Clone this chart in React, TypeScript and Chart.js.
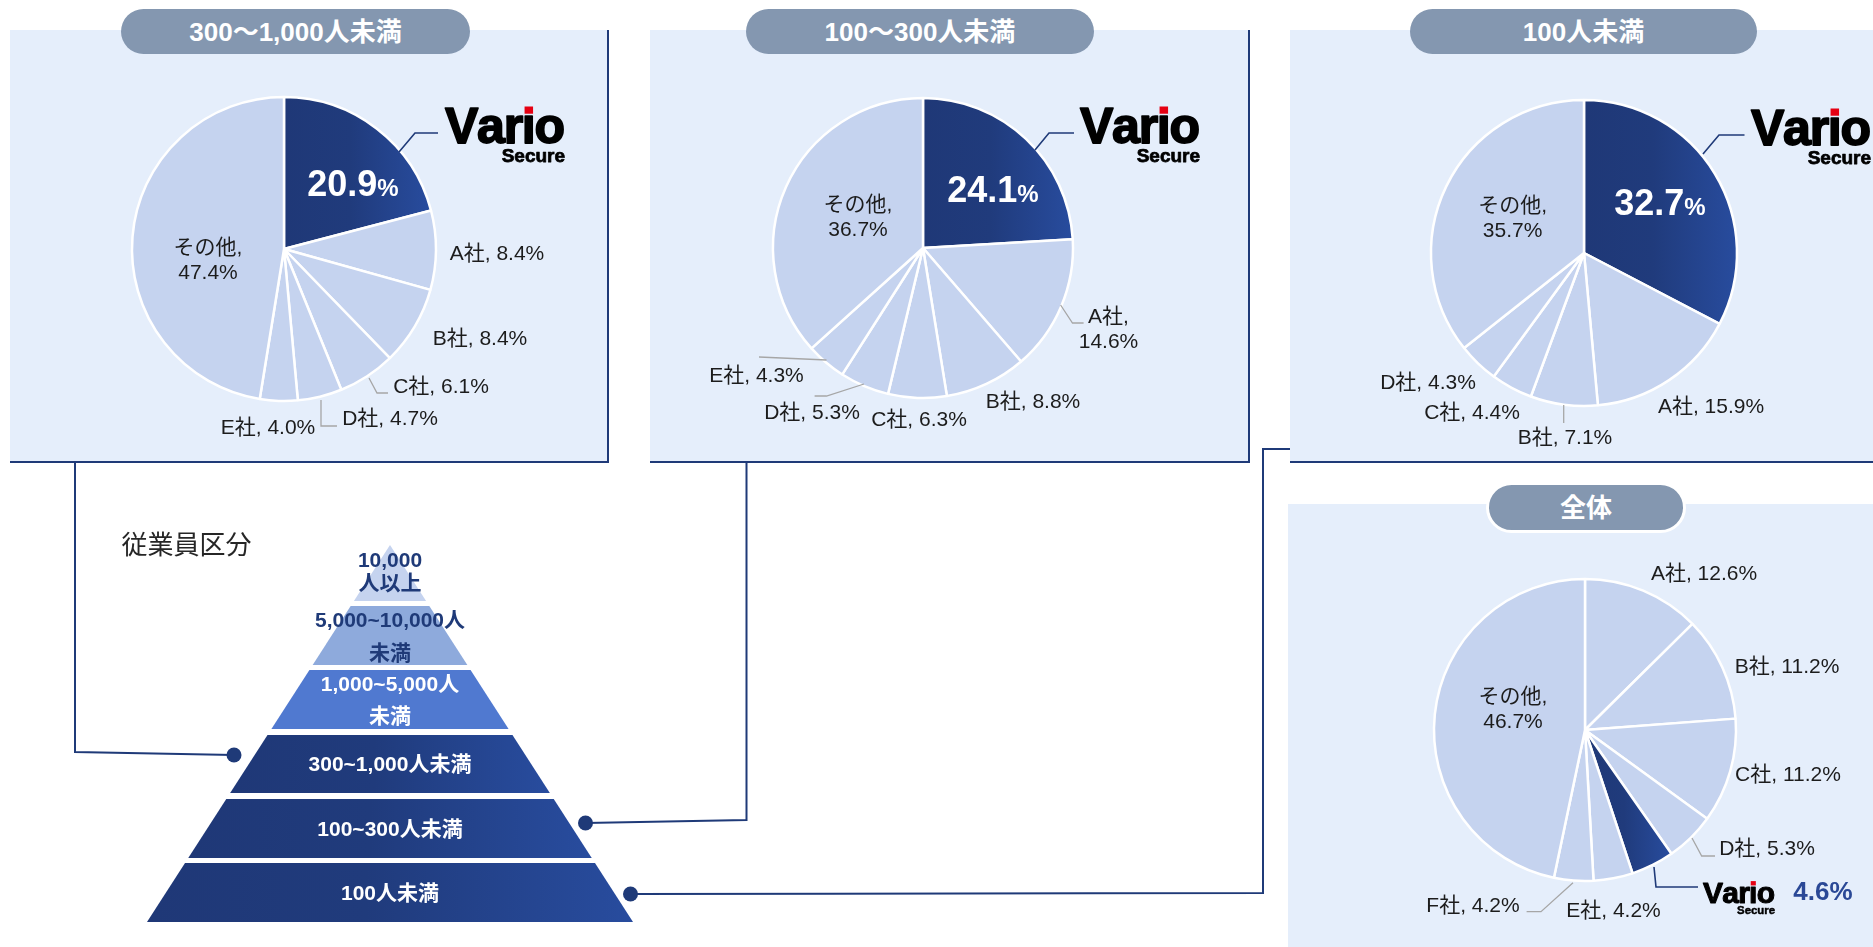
import React, { useEffect, useRef } from 'react';
import { Chart, registerables } from 'chart.js';
Chart.register(...registerables);

// ---------------- data ----------------
const VARIO = 'Vario Secure';
const GROUP_TITLES = ['300～1,000人未満', '100～300人未満', '100人未満', '全体'];

const CATS_300_1000 = [VARIO, 'A社', 'B社', 'C社', 'D社', 'E社', 'その他'];
const VALS_300_1000 = [20.9, 8.4, 8.4, 6.1, 4.7, 4.0, 47.4];

const CATS_100_300 = [VARIO, 'A社', 'B社', 'C社', 'D社', 'E社', 'その他'];
const VALS_100_300 = [24.1, 14.6, 8.8, 6.3, 5.3, 4.3, 36.7];

const CATS_UNDER_100 = [VARIO, 'A社', 'B社', 'C社', 'D社', 'その他'];
const VALS_UNDER_100 = [32.7, 15.9, 7.1, 4.4, 4.3, 35.7];

const CATS_TOTAL = ['A社', 'B社', 'C社', 'D社', VARIO, 'E社', 'F社', 'その他'];
const VALS_TOTAL = [12.6, 11.2, 11.2, 5.3, 4.6, 4.2, 4.2, 46.7];

const PYRAMID_TITLE = '従業員区分';
const PYRAMID_TIERS = [
  ['10,000', '人以上'],
  ['5,000~10,000人', '未満'],
  ['1,000~5,000人', '未満'],
  ['300~1,000人未満'],
  ['100~300人未満'],
  ['100人未満'],
];

// ---------------- styles ----------------
const FONT = "'Liberation Sans', 'Noto Sans CJK JP', sans-serif";
const LIGHT = '#c5d3ef';
const NAVY1 = '#1f3877';
const NAVY2 = '#284c9e';
const PANEL_BG = '#e5eefb';
const PILL_BG = '#8497b0';
const LINE_NAVY = '#1f3a78';
const BW = 2.5;

type LabelSpec = {
  dx: number; dy: number; wrap?: boolean;
  leader?: number[][]; leaderColor?: string;
  varioIn?: boolean; logo?: { dx: number; dy: number; size: number };
  valueOut?: boolean;
};

const PIES = [
  {
    cats: CATS_300_1000, vals: VALS_300_1000, title: GROUP_TITLES[0],
    panel: { x: 10, y: 30, w: 599, h: 433 }, borderRight: true, borderBottom: true,
    pill: { x: 121, y: 9, w: 349, h: 45 },
    cx: 284, cy: 249, r: 152,
    labels: [
      { dx: 69, dy: -66, varioIn: true, logo: { dx: 161, dy: -106, size: 50 }, leader: [[115, -97], [131, -116], [154, -116]], leaderColor: LINE_NAVY },
      { dx: 213, dy: 5 },
      { dx: 196, dy: 90 },
      { dx: 157, dy: 138, leader: [[85, 129], [93, 144], [104, 144]] },
      { dx: 106, dy: 170, leader: [[37, 151], [37, 177], [53, 177]] },
      { dx: -16, dy: 179 },
      { dx: -76, dy: 11.5, wrap: true },
    ] as LabelSpec[],
  },
  {
    cats: CATS_100_300, vals: VALS_100_300, title: GROUP_TITLES[1],
    panel: { x: 650, y: 30, w: 600, h: 433 }, borderRight: true, borderBottom: true,
    pill: { x: 746, y: 9, w: 348, h: 45 },
    cx: 923, cy: 248, r: 150,
    labels: [
      { dx: 70, dy: -59, varioIn: true, logo: { dx: 157, dy: -105, size: 50 }, leader: [[112, -98], [126, -115], [151, -115]], leaderColor: LINE_NAVY },
      { dx: 185.5, dy: 81.5, wrap: true, leader: [[137.6, 57], [149.5, 75], [160.6, 75]] },
      { dx: 110, dy: 154 },
      { dx: -4, dy: 172 },
      { dx: -111, dy: 165, leader: [[-59, 136], [-96.5, 148], [-108.4, 148]] },
      { dx: -166.5, dy: 128, leader: [[-96.5, 112], [-164, 109]] },
      { dx: -65, dy: -30.5, wrap: true },
    ] as LabelSpec[],
  },
  {
    cats: CATS_UNDER_100, vals: VALS_UNDER_100, title: GROUP_TITLES[2],
    panel: { x: 1290, y: 30, w: 583, h: 433 }, borderRight: false, borderBottom: true,
    pill: { x: 1410, y: 9, w: 347, h: 45 },
    cx: 1584, cy: 253, r: 153,
    labels: [
      { dx: 76, dy: -51, varioIn: true, logo: { dx: 167, dy: -108, size: 50 }, leader: [[119, -99], [135, -118], [160.5, -118]], leaderColor: LINE_NAVY },
      { dx: 127, dy: 154 },
      { dx: -19, dy: 185, leader: [[-20.3, 152], [-20.3, 170]] },
      { dx: -112, dy: 160 },
      { dx: -156, dy: 130 },
      { dx: -71.4, dy: -34, wrap: true },
    ] as LabelSpec[],
  },
  {
    cats: CATS_TOTAL, vals: VALS_TOTAL, title: GROUP_TITLES[3],
    panel: { x: 1288, y: 504, w: 585, h: 443 }, borderRight: false, borderBottom: false,
    pill: { x: 1486, y: 482, w: 200, h: 51 }, pillBorder: true,
    cx: 1585, cy: 730, r: 151,
    labels: [
      { dx: 119, dy: -156 },
      { dx: 202, dy: -63 },
      { dx: 203, dy: 45 },
      { dx: 182, dy: 119, leader: [[107, 108], [116.7, 126], [130, 126]] },
      { dx: 238, dy: 163, valueOut: true, logo: { dx: 118, dy: 173, size: 30 }, leader: [[69, 137], [71, 157], [113, 157]], leaderColor: LINE_NAVY },
      { dx: 28.5, dy: 181.7 },
      { dx: -112, dy: 176.7, leader: [[-12, 152.7], [-44, 181.7], [-58.4, 181.7]] },
      { dx: -72, dy: -20, wrap: true },
    ] as LabelSpec[],
  },
];

// ---------------- drawing helpers ----------------
function drawLogo(ctx: CanvasRenderingContext2D, x: number, baseline: number, size: number) {
  ctx.save();
  ctx.fillStyle = '#000';
  ctx.strokeStyle = '#000';
  ctx.lineJoin = 'round';
  ctx.lineWidth = size * 0.035;
  ctx.font = `bold ${size}px 'Liberation Sans'`;
  ctx.textAlign = 'left';
  ctx.textBaseline = 'alphabetic';
  const ls = -size * 0.025;
  const parts = ['V', 'a', 'r', 'ı', 'o'];
  let cur = x;
  let iX = 0, iW = 0;
  for (const p of parts) {
    const w = ctx.measureText(p).width;
    ctx.fillText(p, cur, baseline);
    ctx.strokeText(p, cur, baseline);
    if (p === 'ı') { iX = cur; iW = w; }
    cur += w + ls;
  }
  const right = cur - ls;
  const s = size * 0.17;
  ctx.fillStyle = '#e60012';
  ctx.fillRect(iX + iW / 2 - s / 2, baseline - size * 0.73, s, s * 0.85);
  ctx.fillStyle = '#000';
  ctx.lineWidth = size * 0.015;
  ctx.font = `bold ${size * 0.38}px 'Liberation Sans'`;
  ctx.textAlign = 'right';
  ctx.fillText('Secure', right, baseline + size * 0.37);
  ctx.strokeText('Secure', right, baseline + size * 0.37);
  ctx.restore();
}

function sliceGradient(chart: any, index: number, vals: number[]) {
  const area = chart.chartArea;
  if (!area) return NAVY1;
  const cx = (area.left + area.right) / 2;
  const r = (Math.min(area.right - area.left, area.bottom - area.top) - BW) / 2;
  const total = vals.reduce((a, b) => a + b, 0);
  let before = 0;
  for (let i = 0; i < index; i++) before += vals[i];
  const a0 = (before / total) * Math.PI * 2;
  const a1 = ((before + vals[index]) / total) * Math.PI * 2;
  let minX = cx, maxX = cx;
  for (let t = 0; t <= 40; t++) {
    const a = a0 + ((a1 - a0) * t) / 40;
    const x = cx + r * Math.sin(a);
    minX = Math.min(minX, x);
    maxX = Math.max(maxX, x);
  }
  const g = chart.ctx.createLinearGradient(minX, 0, maxX, 0);
  g.addColorStop(0, NAVY1);
  g.addColorStop(0.45, '#203b7c');
  g.addColorStop(1, NAVY2);
  return g;
}

function PieBlock({ spec }: { spec: typeof PIES[number] }) {
  const ref = useRef<HTMLCanvasElement>(null);
  const { panel } = spec;
  useEffect(() => {
    const canvas = ref.current!;
    const half = spec.r + BW / 2;
    const padding = {
      left: spec.cx - panel.x - half,
      top: spec.cy - panel.y - half,
      right: panel.x + panel.w - spec.cx - half,
      bottom: panel.y + panel.h - spec.cy - half,
    };
    const varioIdx = spec.cats.indexOf(VARIO);
    const labelPlugin = {
      id: 'pieLabels',
      afterDraw(chart: any) {
        const ctx: CanvasRenderingContext2D = chart.ctx;
        const arc = chart.getDatasetMeta(0).data[0];
        const cx = arc.x, cy = arc.y;
        ctx.save();
        spec.labels.forEach((L, i) => {
          const cat = spec.cats[i];
          const val = spec.vals[i];
          if (L.leader) {
            ctx.beginPath();
            ctx.strokeStyle = L.leaderColor || '#a6a6a6';
            ctx.lineWidth = L.leaderColor ? 1.6 : 1.3;
            L.leader.forEach((p, k) => {
              if (k === 0) ctx.moveTo(cx + p[0], cy + p[1]);
              else ctx.lineTo(cx + p[0], cy + p[1]);
            });
            ctx.stroke();
          }
          const x = cx + L.dx, y = cy + L.dy;
          if (cat === VARIO) {
            if (L.logo) drawLogo(ctx, cx + L.logo.dx, cy + L.logo.dy, L.logo.size);
            if (L.varioIn) {
              const num = val.toFixed(1);
              ctx.fillStyle = '#ffffff';
              ctx.textBaseline = 'alphabetic';
              ctx.textAlign = 'left';
              ctx.font = `bold 36px 'Liberation Sans'`;
              const w1 = ctx.measureText(num).width;
              ctx.font = `bold 24px 'Liberation Sans'`;
              const w2 = ctx.measureText('%').width;
              const start = x - (w1 + w2) / 2;
              const base = y + 13;
              ctx.font = `bold 36px 'Liberation Sans'`;
              ctx.fillText(num, start, base);
              ctx.font = `bold 24px 'Liberation Sans'`;
              ctx.fillText('%', start + w1, base);
            }
            if (L.valueOut) {
              ctx.fillStyle = '#2a4896';
              ctx.font = `bold 26px 'Liberation Sans'`;
              ctx.textAlign = 'center';
              ctx.textBaseline = 'middle';
              ctx.fillText(`${val.toFixed(1)}%`, x, y);
            }
            return;
          }
          ctx.fillStyle = '#1c1c1c';
          ctx.font = `21px ${FONT}`;
          ctx.textAlign = 'center';
          ctx.textBaseline = 'middle';
          if (L.wrap) {
            ctx.fillText(`${cat},`, x, y - 12.5);
            ctx.fillText(`${val.toFixed(1)}%`, x, y + 12.5);
          } else {
            ctx.fillText(`${cat}, ${val.toFixed(1)}%`, x, y);
          }
        });
        ctx.restore();
      },
    };
    const chart = new Chart(canvas, {
      type: 'pie',
      data: {
        labels: spec.cats,
        datasets: [
          {
            data: spec.vals,
            backgroundColor: (c: any) =>
              c.dataIndex === varioIdx ? sliceGradient(c.chart, varioIdx, spec.vals) : LIGHT,
            borderColor: '#ffffff',
            borderWidth: BW,
            hoverOffset: 0,
          },
        ],
      },
      options: {
        responsive: false,
        animation: false,
        events: [],
        layout: { padding },
        plugins: { legend: { display: false }, tooltip: { enabled: false } },
      },
      plugins: [labelPlugin],
    } as any);
    return () => chart.destroy();
  }, []);

  return (
    <>
      <div
        style={{
          position: 'absolute', left: panel.x, top: panel.y, width: panel.w, height: panel.h,
          background: PANEL_BG, boxSizing: 'border-box',
          borderRight: spec.borderRight ? `2px solid ${LINE_NAVY}` : 'none',
          borderBottom: spec.borderBottom ? `2px solid ${LINE_NAVY}` : 'none',
        }}
      />
      <canvas
        ref={ref}
        width={panel.w}
        height={panel.h}
        style={{ position: 'absolute', left: panel.x, top: panel.y, width: panel.w, height: panel.h }}
      />
      <div
        style={{
          position: 'absolute', left: spec.pill.x, top: spec.pill.y, width: spec.pill.w, height: spec.pill.h,
          boxSizing: 'border-box', borderRadius: spec.pill.h / 2, background: PILL_BG,
          border: (spec as any).pillBorder ? '3px solid #ffffff' : 'none',
          color: '#ffffff', fontFamily: FONT, fontWeight: 'bold', fontSize: 26,
          display: 'flex', alignItems: 'center', justifyContent: 'center', lineHeight: 1,
        }}
      >
        {spec.title}
      </div>
    </>
  );
}

function Pyramid() {
  const apexX = 390, apexY = 545, slope = 0.6446;
  const tops = [545, 606, 670, 735, 799, 863];
  const bottoms = [601, 665, 729, 793, 858, 922];
  const fills = ['#c5d3ef', '#8eaadc', '#5079d0', 'url(#dg)', 'url(#dg)', 'url(#dg)'];
  const textColors = ['#1f3a78', '#1f3a78', '#ffffff', '#ffffff', '#ffffff', '#ffffff'];
  const lineGaps = [23, 33, 32, 0, 0, 0];
  const centers = [570.5, 635.5, 699, 763.5, 828.5, 892.5];
  return (
    <svg
      width={1873}
      height={947}
      style={{ position: 'absolute', left: 0, top: 0, pointerEvents: 'none' }}
    >
      <defs>
        <linearGradient id="dg" x1="0" y1="0" x2="1" y2="0">
          <stop offset="0" stopColor={NAVY1} />
          <stop offset="0.45" stopColor="#203b7c" />
          <stop offset="1" stopColor={NAVY2} />
        </linearGradient>
      </defs>
      {PYRAMID_TIERS.map((lines, i) => {
        const t = tops[i], b = bottoms[i];
        const ht = (t - apexY) * slope, hb = (b - apexY) * slope;
        const pts = `${apexX - ht},${t} ${apexX + ht},${t} ${apexX + hb},${b} ${apexX - hb},${b}`;
        return <polygon key={'p' + i} points={pts} fill={fills[i]} />;
      })}
      {PYRAMID_TIERS.map((lines, i) =>
        lines.map((s, k) => (
          <text
            key={`t${i}-${k}`}
            x={apexX}
            y={centers[i] + (lines.length > 1 ? (k === 0 ? -lineGaps[i] / 2 : lineGaps[i] / 2) : 0)}
            fill={textColors[i]}
            fontFamily={FONT}
            fontWeight="bold"
            fontSize={21}
            textAnchor="middle"
            dominantBaseline="central"
          >
            {s}
          </text>
        ))
      )}
      <text x={186.5} y={545} fill="#262626" fontFamily={FONT} fontSize={26} textAnchor="middle" dominantBaseline="central">
        {PYRAMID_TITLE}
      </text>
      <polyline points="75,463 75,752 234,755" fill="none" stroke={LINE_NAVY} strokeWidth={2} />
      <polyline points="746.5,463 746.5,820 585.5,823" fill="none" stroke={LINE_NAVY} strokeWidth={2} />
      <polyline points="630.5,894 1263,893 1263,449 1290,449" fill="none" stroke={LINE_NAVY} strokeWidth={2} />
      <circle cx={234} cy={755} r={7.5} fill={LINE_NAVY} />
      <circle cx={585.5} cy={823} r={7.5} fill={LINE_NAVY} />
      <circle cx={630.5} cy={894} r={7.5} fill={LINE_NAVY} />
    </svg>
  );
}

export default function App() {
  return (
    <div
      style={{
        position: 'absolute', left: 0, top: 0, width: 1873, height: 947,
        overflow: 'hidden', background: '#ffffff', fontFamily: FONT,
      }}
    >
      {PIES.map((p, i) => (
        <PieBlock key={i} spec={p} />
      ))}
      <Pyramid />
    </div>
  );
}
